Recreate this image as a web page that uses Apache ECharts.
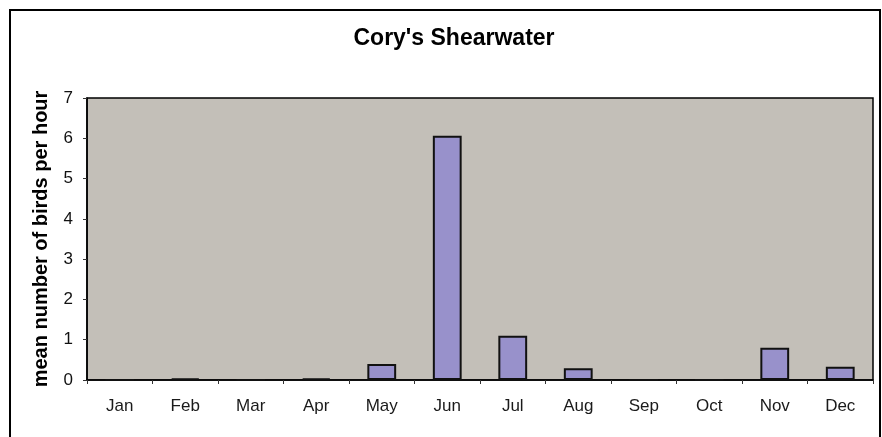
<!DOCTYPE html>
<html><head><meta charset="utf-8">
<script src="https://cdn.jsdelivr.net/npm/echarts@6/dist/echarts.min.js"></script>
<style>html,body{margin:0;padding:0;background:#fff}#c{width:882px;height:437px}</style>
</head><body><div id="c"></div>
<script>
const title = "Cory's Shearwater";
const yName = "mean number of birds per hour";
const months = ["Jan","Feb","Mar","Apr","May","Jun","Jul","Aug","Sep","Oct","Nov","Dec"];
const birdsPerHour = [0, 0.04, 0, 0.04, 0.40, 6.06, 1.10, 0.29, 0, 0, 0.80, 0.33];
const yTicks = [0,1,2,3,4,5,6,7];

const chart = echarts.init(document.getElementById('c'), null, {renderer:'canvas'});
chart.setOption({
  backgroundColor: '#ffffff',
  animation: false,
  title: {text: title, left: 449, top: 22, textAlign: 'center',
    textStyle: {fontFamily: 'Liberation Sans, Arial, sans-serif', fontWeight: 'bold', fontSize: 23, color: '#000'}},
  graphic: [{type:'rect', shape:{x:10,y:10,width:870,height:450}, style:{fill:'none', stroke:'#000', lineWidth:2}, silent:true}],
  grid: {left: 87, right: 9, top: 98, bottom: 57, show: true, backgroundColor: '#c3bfb8', borderColor: '#000', borderWidth: 1.5},
  xAxis: {type:'category', data: months, boundaryGap: true,
    axisLine:{show:true, lineStyle:{color:'#000', width:1.5}},
    axisTick:{show:true, alignWithLabel:false, length:4, lineStyle:{color:'#333'}},
    axisLabel:{margin: 18, fontFamily:'Liberation Sans, Arial, sans-serif', fontSize:17, color:'#1a1a1a'}},
  yAxis: {type:'value', min: yTicks[0], max: yTicks[yTicks.length-1], interval: 1,
    name: yName, nameLocation:'middle', nameGap: 36, nameRotate: 90,
    nameTextStyle:{fontFamily:'Liberation Sans, Arial, sans-serif', fontWeight:'bold', fontSize:20, color:'#000'},
    splitLine:{show:false},
    axisLine:{show:true, lineStyle:{color:'#000', width:1.5}},
    axisTick:{show:true, length:4, lineStyle:{color:'#333'}},
    axisLabel:{margin: 14, fontFamily:'Liberation Sans, Arial, sans-serif', fontSize:17, color:'#111'}},
  series: [{type:'bar', data: birdsPerHour, barWidth: '44%',
    itemStyle:{color:'#9891cb', borderColor:'#111', borderWidth:2}}]
});
</script></body></html>
